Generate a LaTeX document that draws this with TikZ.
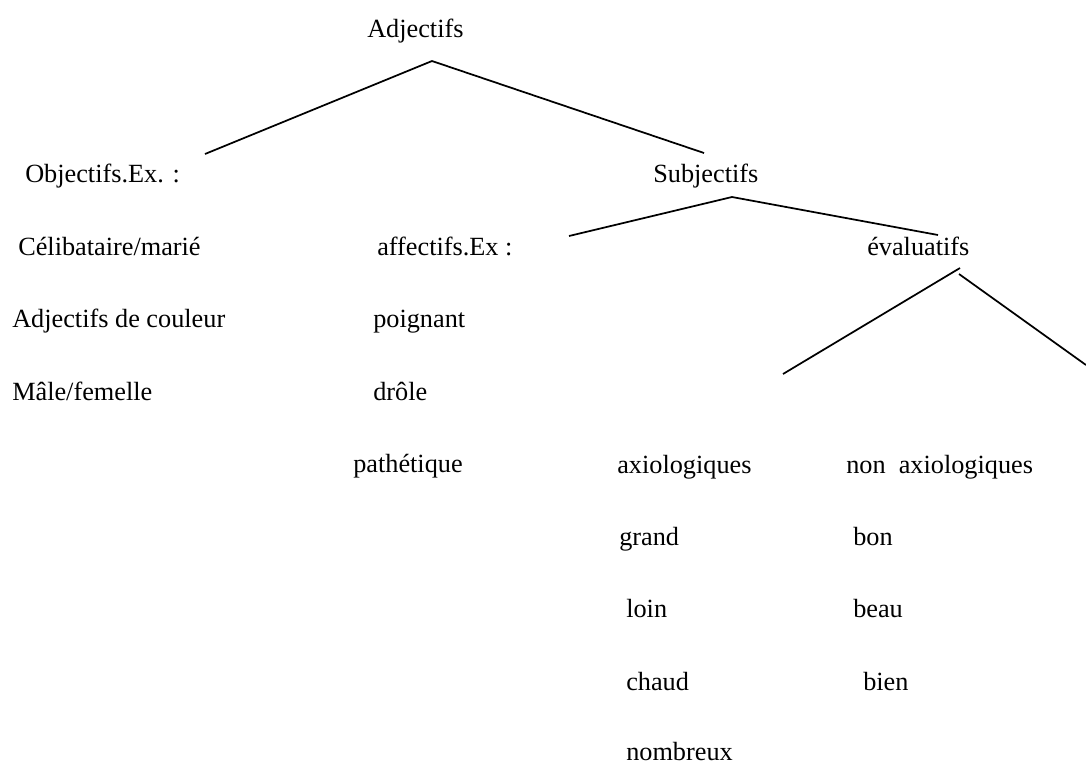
\documentclass[tikz,border=0pt]{standalone}
\usepackage{fontspec}
\setmainfont{Liberation Serif}
\begin{document}
\begin{tikzpicture}[x=0.75pt,y=-0.75pt,
  lbl/.style={anchor=base west,inner sep=0pt,font=\fontsize{19.7}{23}\selectfont},
  branch/.style={line width=1.3pt,line cap=butt}]
\useasboundingbox (0,0) rectangle (1086,765);
% nodes
\node[lbl] (adj) at (367,37) {Adjectifs};
\node[lbl] (obj) at (25,182) {Objectifs.Ex. :};
\node[lbl] (subj) at (653,182) {Subjectifs};
\node[lbl] (celib) at (18,255) {Célibataire/marié};
\node[lbl] (aff) at (377,255) {affectifs.Ex :};
\node[lbl] (eval) at (867,255) {évaluatifs};
\node[lbl] (coul) at (12,327) {Adjectifs de couleur};
\node[lbl] (poig) at (373,327) {poignant};
\node[lbl] (male) at (12,400) {Mâle/femelle};
\node[lbl] (drole) at (373,400) {drôle};
\node[lbl] (path) at (353,472) {pathétique};
\node[lbl] (axio) at (617,473) {axiologiques};
\node[lbl] (nonaxio) at (846,473) {non\ \ axiologiques};
\node[lbl] (grand) at (619,545) {grand};
\node[lbl] (bon) at (853,545) {bon};
\node[lbl] (loin) at (626,617) {loin};
\node[lbl] (beau) at (853,617) {beau};
\node[lbl] (chaud) at (626,690) {chaud};
\node[lbl] (bien) at (863,690) {bien};
\node[lbl] (nomb) at (626,760) {nombreux};
% connector end points
\coordinate (adjTop) at (432,61);
\coordinate (objEnd) at (205,154);
\coordinate (subjEnd) at (704,153);
\coordinate (subjTop) at (732,197);
\coordinate (affEnd) at (569,236);
\coordinate (evalEnd) at (938,235);
\coordinate (evalTopL) at (960,268);
\coordinate (evalTopR) at (959,274);
\coordinate (axioEnd) at (783,374);
\coordinate (nonaxioEnd) at (1086,365);
% connectors
\draw[branch] (objEnd) -- (adjTop) -- (subjEnd);
\draw[branch] (affEnd) -- (subjTop) -- (evalEnd);
\draw[branch] (evalTopL) -- (axioEnd);
\draw[branch] (evalTopR) -- (nonaxioEnd);
\end{tikzpicture}
\end{document}
